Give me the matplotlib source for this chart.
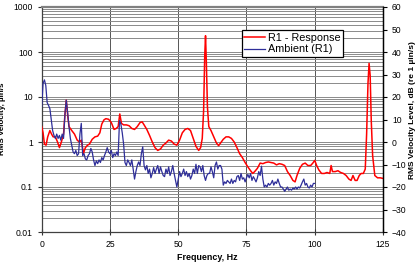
import numpy as np
import matplotlib
matplotlib.use("Agg")
import matplotlib.pyplot as plt
from matplotlib.ticker import LogLocator, FixedLocator, NullFormatter

plt.rcParams['font.family'] = ['Liberation Sans', 'DejaVu Sans']

# ---------------- data ----------------
red_f = [0, 0.5, 1, 1.6, 2.2, 3, 3.6, 4.2, 5, 5.8, 6.5, 7.2, 8, 8.5, 9, 9.5, 10, 11, 12, 13,
         13.8, 14.5, 15.3, 16, 16.8, 17.5, 18.5, 19.5, 20.5, 21.3, 22, 22.8, 23.5, 24.5, 25.5,
         26.5, 27.3, 28, 28.6, 29.2, 30, 31, 32, 33, 34, 35, 36, 36.8, 37.5, 38.5, 39.5, 40.5,
         41.5, 42.5, 43.5, 44.5, 45.5, 46.5, 47.5, 48.5, 49.5, 50.5, 51.5, 52.5, 53.5, 54.5,
         55.5, 56.5, 57.5, 58.2, 58.8, 59.3, 59.7, 60, 60.3, 60.7, 61.2, 62, 63, 64, 64.8, 65.5,
         66.5, 67.5, 68.5, 69.5, 70.5, 71.5, 72.5, 73.5, 74.5, 75.5, 76.5, 77.3, 78, 79, 80, 81,
         82, 83, 84, 85, 86, 87, 88, 89, 90, 91, 92, 92.8, 93.5, 94.5, 95.5, 96.5, 97.5, 98.5,
         99.3, 100, 100.7, 101.5, 102.5, 103.5, 104.5, 105.5, 106, 106.5, 107.5, 108.5, 109.5,
         110.5, 111.5, 112.5, 113.3, 114, 114.8, 115.5, 116.3, 117, 117.8, 118.5, 119, 119.5,
         119.9, 120.3, 120.7, 121.2, 122, 123, 124, 125]
red_v = [2.2, 1.6, 0.9, 0.85, 1.3, 1.8, 1.5, 1.3, 1.3, 1.0, 0.75, 1.0, 1.5, 4.0, 8.5, 4.0, 2.2,
         1.8, 1.5, 1.1, 1.0, 1.1, 0.56, 0.75, 0.85, 0.9, 1.15, 1.3, 1.35, 1.6, 2.5, 3.1, 3.3, 3.2,
         2.7, 1.9, 2.0, 2.2, 4.2, 2.6, 2.4, 2.4, 2.3, 2.0, 1.9, 2.2, 2.7, 2.8, 2.4, 1.9, 1.4, 1.0,
         0.75, 0.65, 0.7, 0.85, 0.95, 1.1, 1.05, 0.9, 0.85, 1.1, 1.6, 1.9, 2.0, 1.8, 1.2, 0.8,
         0.65, 0.75, 1.2, 5, 80, 230, 60, 6, 2.2, 1.8, 1.3, 0.95, 0.83, 0.95, 1.15, 1.3, 1.3, 1.2,
         1.0, 0.75, 0.55, 0.45, 0.35, 0.28, 0.23, 0.2, 0.22, 0.26, 0.34, 0.33, 0.35, 0.36, 0.35,
         0.34, 0.31, 0.33, 0.32, 0.3, 0.22, 0.18, 0.14, 0.13, 0.18, 0.26, 0.32, 0.34, 0.3, 0.3,
         0.34, 0.39, 0.3, 0.24, 0.2, 0.2, 0.21, 0.2, 0.3, 0.22, 0.22, 0.23, 0.21, 0.2, 0.18, 0.15,
         0.14, 0.18, 0.14, 0.14, 0.18, 0.2, 0.2, 0.25, 1.5, 20, 56, 30, 3, 0.5, 0.18, 0.16, 0.16,
         0.155]

blue_f = np.arange(0, 100.01, 0.5)
blue_v = [6, 20, 24, 18, 7.5, 6.5, 5.5, 3.2, 1.8, 1.4,
          1.2, 1.5, 1.2, 1.4, 1.1, 1.5, 1.2, 4, 8.5, 4.5,
          2.2, 1.2, 0.85, 0.6, 0.55, 0.65, 0.5, 0.55, 1.5, 2.6,
          0.5, 0.55, 0.42, 0.4, 0.5, 0.55, 0.72, 0.6, 0.4, 0.3,
          0.38, 0.33, 0.4, 0.35, 0.45, 0.4, 0.5, 0.6, 0.75, 0.6,
          0.55, 0.65, 0.45, 0.55, 0.5, 0.6, 0.5, 3.0, 2.5, 1.6,
          0.9, 0.35, 0.3, 0.4, 0.35, 0.3, 0.4, 0.25, 0.15, 0.22,
          0.3, 0.36, 0.3, 0.55, 0.78, 0.3, 0.24, 0.3, 0.2, 0.25,
          0.16, 0.2, 0.27, 0.2, 0.25, 0.3, 0.2, 0.28, 0.22, 0.18,
          0.17, 0.25, 0.2, 0.28, 0.18, 0.22, 0.3, 0.2, 0.14, 0.1,
          0.15, 0.22, 0.17, 0.2, 0.25, 0.18, 0.22, 0.17, 0.2, 0.15,
          0.18, 0.25, 0.2, 0.32, 0.2, 0.3, 0.28, 0.22, 0.3, 0.18,
          0.14, 0.18, 0.2, 0.2, 0.28, 0.22, 0.16, 0.3, 0.36, 0.25,
          0.3, 0.3, 0.25, 0.11, 0.13, 0.12, 0.14, 0.13, 0.12, 0.15,
          0.12, 0.14, 0.13, 0.17, 0.18, 0.14, 0.2, 0.15, 0.16, 0.13,
          0.16, 0.19, 0.16, 0.2, 0.14, 0.17, 0.15, 0.13, 0.16, 0.22,
          0.18, 0.29, 0.15, 0.1, 0.11, 0.1, 0.12, 0.11, 0.12, 0.14,
          0.11, 0.13, 0.12, 0.15, 0.12, 0.1, 0.1, 0.09, 0.08, 0.09,
          0.1, 0.085, 0.09, 0.085, 0.095, 0.09, 0.1, 0.09, 0.1, 0.095,
          0.11, 0.13, 0.15, 0.11, 0.12, 0.1, 0.095, 0.11, 0.1, 0.12,
          0.12]

series_names = ["R1 - Response", "Ambient (R1)"]
x_ticks = [0, 25, 50, 75, 100, 125]
y_ticks = [0.01, 0.1, 1, 10, 100, 1000]
y_ticklabels = ["0.01", "0.1", "1", "10", "100", "1000"]
db_ticks = list(range(-40, 61, 10))

# ---------------- figure ----------------
fig = plt.figure(figsize=(4.15, 2.65), dpi=100)
ax_w = 383 - 41.7
ax = fig.add_axes([41.7 / 415, 1 - 232 / 265, ax_w / 415, 225 / 265])

ax.set_yscale('log')
ax.set_xlim(0, 125)
ax.set_ylim(0.01, 1000)

ax.yaxis.set_major_locator(FixedLocator(y_ticks))
ax.set_yticklabels(y_ticklabels)
ax.yaxis.set_minor_locator(LogLocator(base=10, subs=np.arange(2, 10), numticks=50))
ax.yaxis.set_minor_formatter(NullFormatter())
ax.set_xticks(x_ticks)

ax.grid(True, which='both', axis='y', color='#8a8a8a', linewidth=0.7)
ax.grid(True, which='major', axis='x', color='#555555', linewidth=0.7)
for t in ax.yaxis.get_minor_ticks():
    loc = t.get_loc()
    if (0.035 < loc < 0.085) or (450 < loc < 950):
        t.gridline.set_color('black')
        t.gridline.set_linewidth(0.8)
ax.set_axisbelow(True)

l1, = ax.plot(red_f, red_v, color='#ff0000', linewidth=1.1, label=series_names[0])
l2, = ax.plot(blue_f, blue_v, color='#2e2e99', linewidth=0.9, label=series_names[1])
l2.set_zorder(3)
l1.set_zorder(2.9)

ax.tick_params(axis='both', which='major', labelsize=6.2, colors='#333333', length=3, width=0.8)
ax.tick_params(axis='y', which='minor', length=0)
ax.tick_params(axis='x', direction='inout', length=5)
for lbl in ax.get_xticklabels() + ax.get_yticklabels():
    lbl.set_color('black')

for s in ['left', 'bottom']:
    ax.spines[s].set_color('#404040')
    ax.spines[s].set_linewidth(0.9)
ax.spines['top'].set_color('#808080')
ax.spines['top'].set_linewidth(1.6)
ax.spines['right'].set_color('black')

ax.set_xlabel("Frequency, Hz", fontsize=6.4, fontweight='bold')
ax.xaxis.set_label_coords((207 - 41.7) / ax_w, -(253 - 232) / 225)
ax.set_ylabel("RMS Velocity, \u00b5in/s", fontsize=5.8, fontweight='bold')
ax.yaxis.set_label_coords((6.5 - 41.7) / ax_w, (232 - 119) / 225)

ax2 = ax.twinx()
ax2.set_ylim(-40, 60)
ax2.set_yticks(db_ticks)
ax2.tick_params(axis='y', labelsize=6.2, length=3, width=0.8, colors='black')
ax2.spines['right'].set_color('black')
ax2.spines['right'].set_linewidth(1.0)
for s in ['left', 'top', 'bottom']:
    ax2.spines[s].set_visible(False)
ax2.set_ylabel("RMS Velocity Level, dB (re 1 \u00b5in/s)", fontsize=6.0, fontweight='bold')
ax2.yaxis.set_label_coords((409 - 41.7) / ax_w, (232 - 110) / 225)

leg = ax2.legend([l1, l2], series_names, loc='upper left',
                 bbox_to_anchor=((241.7 - 41.7) / ax_w, (232 - 30) / 225),
                 fontsize=7.8, frameon=True, fancybox=False, edgecolor='black',
                 borderpad=0.25, labelspacing=0.15, handlelength=1.9, handletextpad=0.25,
                 borderaxespad=0)
leg.get_frame().set_linewidth(0.9)
leg.get_frame().set_facecolor('white')
leg.get_frame().set_alpha(1)

fig.savefig("out.png", dpi=100)
